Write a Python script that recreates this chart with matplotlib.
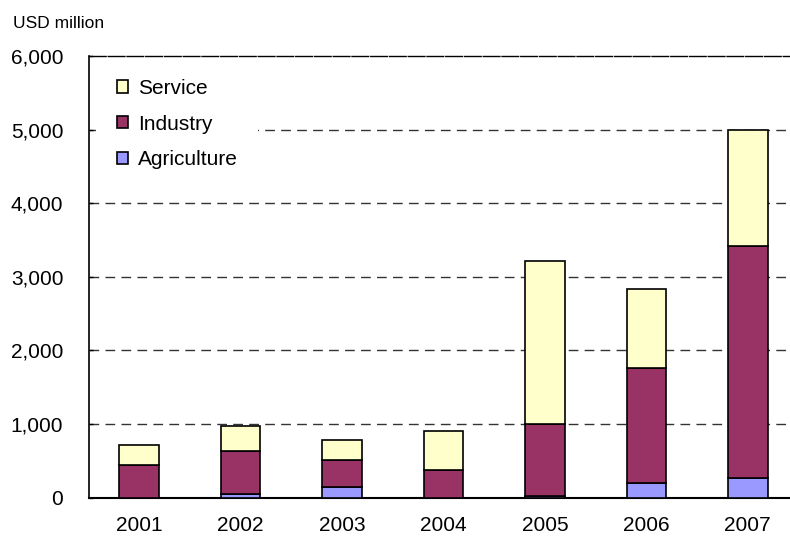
import matplotlib.pyplot as plt
import numpy as np

years = ['2001', '2002', '2003', '2004', '2005', '2006', '2007']
agriculture = [0, 45, 146, 0, 20, 195, 263]
industry = [440, 590, 361, 371, 983, 1562, 3154]
service = [272, 345, 278, 531, 2212, 1073, 1583]

col_agri = '#9999FF'
col_ind = '#993366'
col_serv = '#FFFFCC'

plt.rcParams['font.family'] = ['Liberation Sans', 'DejaVu Sans']

fig = plt.figure(figsize=(7.9, 5.37), dpi=100)
ax = fig.add_axes([0.1127, 0.073, 0.8873, 0.823])

x = np.arange(len(years))
agri = np.array(agriculture)
ind = np.array(industry)
serv = np.array(service)
w = 0.39

b1 = ax.bar(x, agri, w, color=col_agri, edgecolor='black', linewidth=1.2, label='Agriculture', zorder=3)
b2 = ax.bar(x, ind, w, bottom=agri, color=col_ind, edgecolor='black', linewidth=1.2, label='Industry', zorder=3)
b3 = ax.bar(x, serv, w, bottom=agri + ind, color=col_serv, edgecolor='black', linewidth=1.2, label='Service', zorder=3)

ax.set_xlim(-0.495, 6.416)
ax.set_ylim(0, 6000)
ax.set_yticks(np.arange(0, 6001, 1000))
ax.set_yticklabels([f'{v:,}' for v in range(0, 6001, 1000)])
ax.set_xticks(x)
ax.set_xticklabels(years)

ax.tick_params(axis='y', direction='in', length=3, width=1, pad=18.5, labelsize=15)
ax.tick_params(axis='x', length=0, pad=13, labelsize=15)

for v in range(1000, 6000, 1000):
    ax.axhline(v, color='#333333', linewidth=1, linestyle=(0, (7, 4.5)), zorder=1)

ax.spines['right'].set_visible(False)
ax.spines['top'].set_linestyle((0, (12, 1.5)))
ax.spines['top'].set_linewidth(1)
ax.spines['left'].set_linewidth(1.2)
ax.spines['bottom'].set_linewidth(1.5)

fig.text(13 / 790, 1 - 24 / 537, 'USD million', fontsize=12.5, va='center', ha='left')

# white legend box hides the grid line behind it
pad_px = 21
leg = ax.legend(handles=[b3, b2, b1], loc='upper left',
                bbox_to_anchor=((117 - pad_px) / 790, 1 - (79 - pad_px) / 537),
                bbox_transform=fig.transFigure,
                frameon=True, facecolor='white', edgecolor='none', framealpha=1,
                fancybox=False, fontsize=15, handlelength=0.52, handleheight=0.52,
                handletextpad=0.48, labelspacing=0.8, borderpad=1.0, borderaxespad=0)

fig.savefig('out.png', dpi=100)
